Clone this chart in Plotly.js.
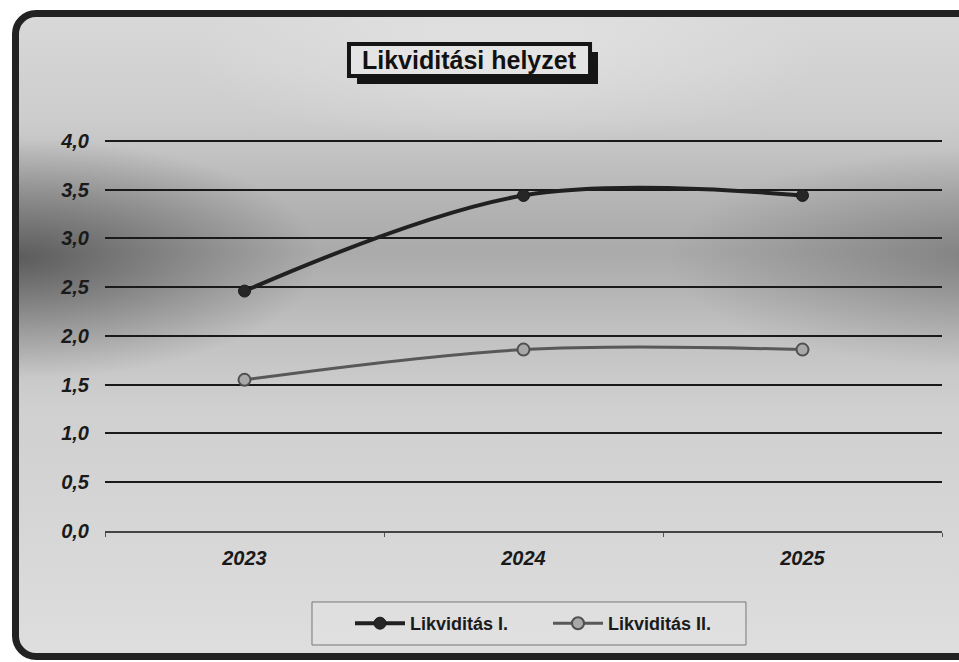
<!DOCTYPE html>
<html>
<head>
<meta charset="utf-8">
<script src="https://cdn.plot.ly/plotly-3.0.1.min.js"></script>
<style>
html,body{margin:0;padding:0;background:#fff;width:959px;height:662px;overflow:hidden;}
#frame{position:absolute;left:12px;top:10px;width:970px;height:636px;border:7px solid #222;border-radius:24px;
background:
 radial-gradient(ellipse 300px 120px at 0% 38%, rgba(40,40,40,0.6), rgba(40,40,40,0) 100%),
 radial-gradient(ellipse 320px 110px at 100% 38%, rgba(60,60,60,0.38), rgba(60,60,60,0) 100%),
 radial-gradient(ellipse 320px 90px at 50% 6%, rgba(255,255,255,0.3), rgba(255,255,255,0) 100%),
 linear-gradient(to bottom, #d8d8d8 0%, #cdcdcd 16%, #b4b4b4 29%, #aaaaaa 37%, #c0c0c0 49%, #d0d0d0 62%, #d6d6d6 80%, #dedede 100%);}
#chart{position:absolute;left:0;top:0;width:959px;height:662px;z-index:2;}
</style>
</head>
<body>
<div id="frame"></div>
<div id="chart"></div>
<script>
var years = ['2023', '2024', '2025'];
var liq1 = [2.46, 3.44, 3.44];
var liq2 = [1.55, 1.86, 1.86];
var seriesNames = ['Likviditás I.', 'Likviditás II.'];
var chartTitle = 'Likviditási helyzet';
var yTicks = [0, 0.5, 1, 1.5, 2, 2.5, 3, 3.5, 4];

var font = 'Arial, "Liberation Sans", sans-serif';

var traces = [
  {x: years, y: liq1, name: seriesNames[0], type: 'scatter', mode: 'lines+markers',
   line: {color: '#202020', width: 4, shape: 'spline', smoothing: 1},
   marker: {symbol: 'circle', size: 12, color: '#262626', line: {color: '#1a1a1a', width: 1}}},
  {x: years, y: liq2, name: seriesNames[1], type: 'scatter', mode: 'lines+markers',
   line: {color: '#585858', width: 3, shape: 'spline', smoothing: 1},
   marker: {symbol: 'circle', size: 12, color: '#a8a8a8', line: {color: '#505050', width: 2}}}
];

var layout = {
  width: 959, height: 662,
  margin: {l: 105, r: 17, t: 136, b: 131},
  paper_bgcolor: 'rgba(0,0,0,0)',
  plot_bgcolor: 'rgba(0,0,0,0)',
  separators: ',.',
  font: {family: font, color: '#1a1a1a'},
  showlegend: true,
  xaxis: {
    type: 'category', range: [-0.5, 2.5], fixedrange: true,
    showgrid: false, zeroline: false,
    showline: true, linecolor: '#444', linewidth: 1.5,
    ticks: 'outside', tickson: 'boundaries', ticklen: 4, tickcolor: '#555', tickwidth: 1,
    ticklabelstandoff: 8,
    tickfont: {family: font, size: 20, color: '#1a1a1a', weight: 'bold', style: 'italic'}
  },
  yaxis: {
    range: [0, 4.05], fixedrange: true,
    tickvals: yTicks, tickformat: '.1f',
    showgrid: true, gridcolor: '#1a1a1a', gridwidth: 2,
    zeroline: false, showline: false, ticks: '',
    ticklabelstandoff: 15,
    tickfont: {family: font, size: 20, color: '#1a1a1a', weight: 'bold', style: 'italic'}
  },
  legend: {
    orientation: 'h', x: 0.2927, xanchor: 'left', y: -0.1873, yanchor: 'top',
    bgcolor: 'rgba(0,0,0,0)', borderwidth: 0,
    font: {family: font, size: 18, color: '#1a1a1a', weight: 'bold'},
    entrywidth: 133, itemwidth: 50
  },
  shapes: [
    {type: 'rect', xref: 'paper', yref: 'paper', x0: 0.2473, x1: 0.7658, y0: -0.2886, y1: -0.1797,
     fillcolor: 'rgba(226,226,226,0.55)', line: {color: '#777', width: 1}, layer: 'below'},
    {type: 'rect', xref: 'paper', yref: 'paper', x0: 0.3011, x1: 0.589, y0: 1.1316, y1: 1.2127,
     fillcolor: '#151515', line: {width: 0}},
    {type: 'rect', xref: 'paper', yref: 'paper', x0: 0.2915, x1: 0.5795, y0: 1.1519, y1: 1.2329,
     fillcolor: '#e4e4e4', line: {color: '#151515', width: 4}}
  ],
  annotations: [
    {text: chartTitle, xref: 'paper', yref: 'paper', x: 0.4355, y: 1.1924, xanchor: 'center', yanchor: 'middle',
     showarrow: false, font: {family: font, size: 25, color: '#111', weight: 'bold'}}
  ]
};

Plotly.newPlot('chart', traces, layout, {displayModeBar: false, staticPlot: true});
</script>
</body>
</html>
